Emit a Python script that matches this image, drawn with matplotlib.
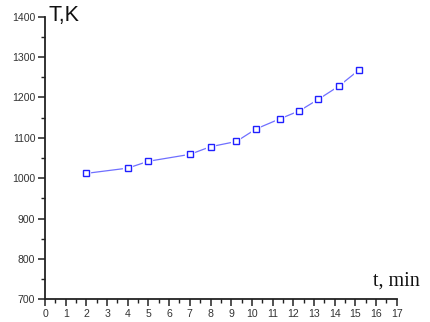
import matplotlib
matplotlib.use("Agg")
import matplotlib.pyplot as plt
from matplotlib.ticker import MultipleLocator

# temperature vs time readings
t_min = [2.0, 4.0, 5.0, 7.0, 8.0, 9.25, 10.2, 11.35, 12.3, 13.2, 14.2, 15.2]
temp_k = [1012, 1025, 1042, 1059, 1078, 1091, 1122, 1147, 1167, 1195, 1228, 1269]

fig = plt.figure(figsize=(4.3, 3.22), dpi=100)
ax = fig.add_axes([0.1047, 0.0705, 0.8178, 0.8775])

ax.plot(t_min, temp_k, color="#6f6fff", linewidth=0.9, zorder=2)
# white halo so the line stops short of each marker
ax.plot(t_min, temp_k, linestyle="none", marker="s", markersize=5,
        markerfacecolor="white", markeredgecolor="white", markeredgewidth=3, zorder=3)
ax.plot(t_min, temp_k, linestyle="none", marker="s", markersize=4.3,
        markerfacecolor="white", markeredgecolor="#2020ff", markeredgewidth=1.0, zorder=4)

ax.set_xlim(0, 17)
ax.set_ylim(700, 1400)
ax.xaxis.set_major_locator(MultipleLocator(1))
ax.xaxis.set_minor_locator(MultipleLocator(0.5))
ax.yaxis.set_major_locator(MultipleLocator(100))
ax.yaxis.set_minor_locator(MultipleLocator(50))

for side in ("top", "right"):
    ax.spines[side].set_visible(False)
for side in ("left", "bottom"):
    ax.spines[side].set_linewidth(1.3)
    ax.spines[side].set_color("#222222")

ax.tick_params(which="major", direction="out", length=5, width=1.1, color="#222222",
               labelsize=7.6, labelcolor="#333333", pad=2)
ax.tick_params(which="minor", direction="out", length=3, width=1.0, color="#222222")
for lbl in ax.get_xticklabels() + ax.get_yticklabels():
    lbl.set_family("Liberation Sans")

ax.text(0.011, 0.986, "T,K", transform=ax.transAxes, ha="left", va="baseline",
        fontsize=15.5, family="Liberation Sans", color="#111111")
ax.text(0.933, 0.047, "t, min", transform=ax.transAxes, ha="left", va="baseline",
        fontsize=14.5, family="Liberation Serif", color="#111111")

fig.savefig("out.png", dpi=100)
